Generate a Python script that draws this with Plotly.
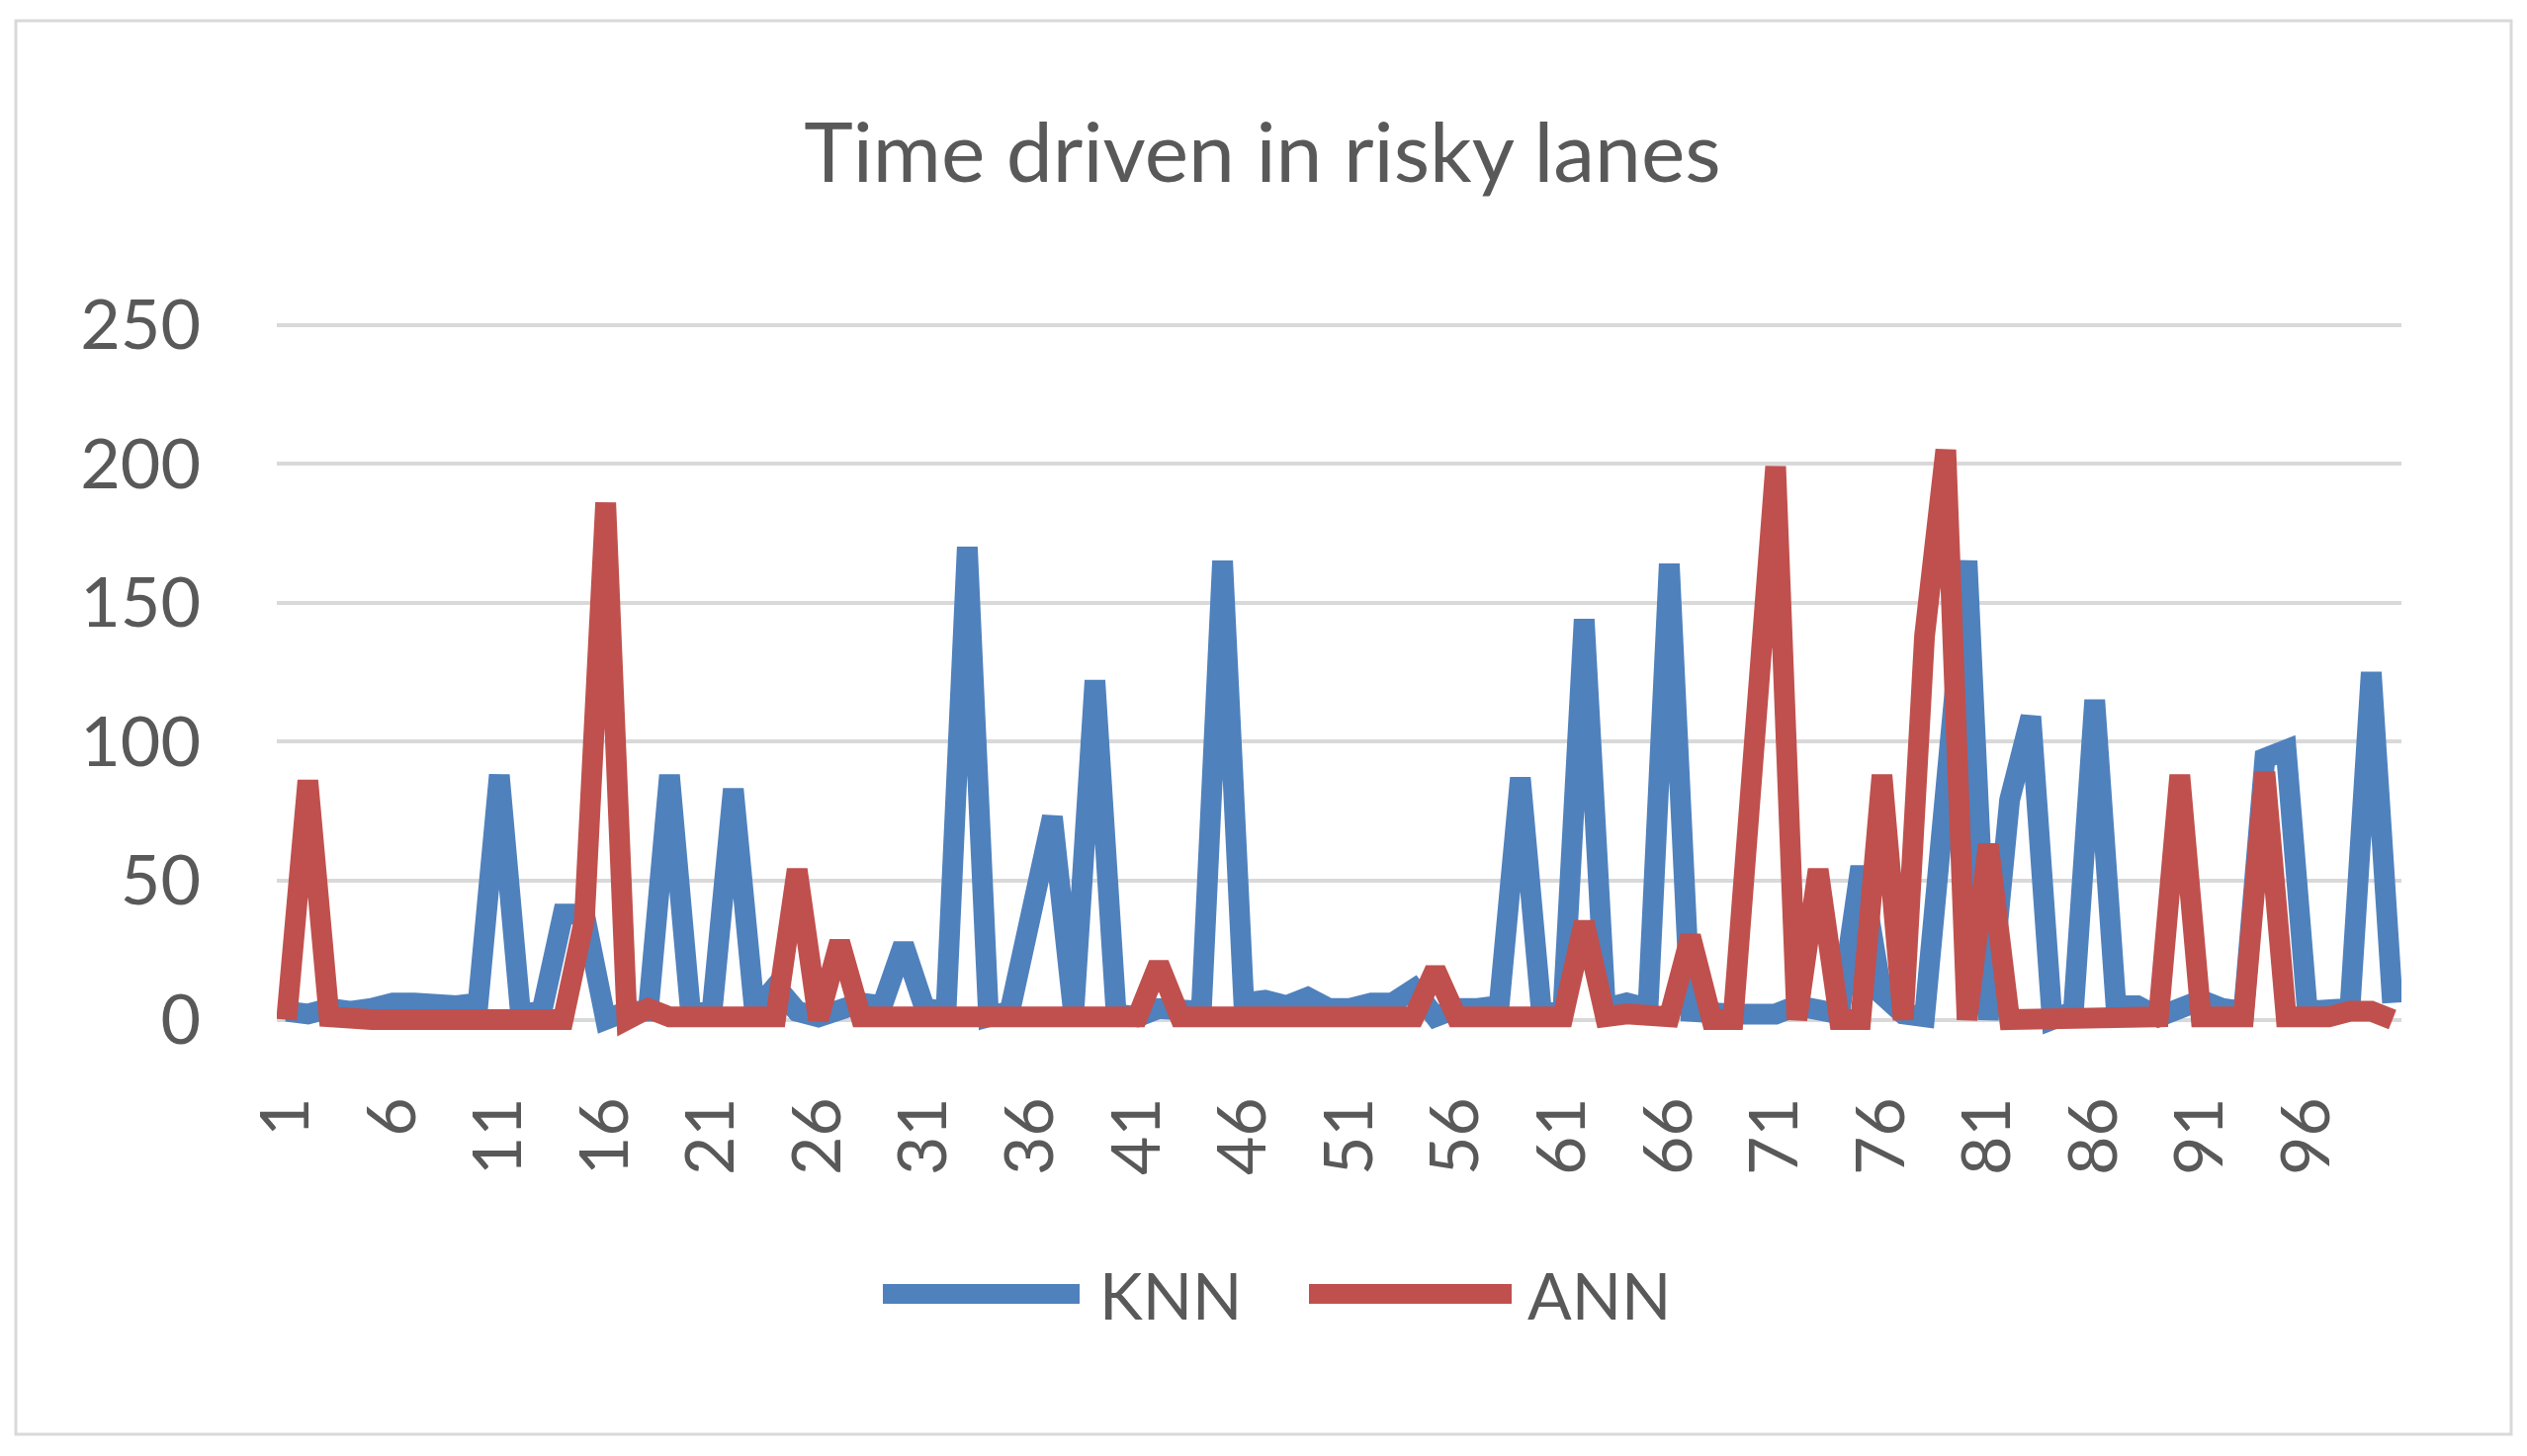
import plotly.graph_objects as go

categories = list(range(1, 101))

knn = [3, 2, 4, 3, 4, 6, 6, 5, 5, 6,
       88, 2, 3, 38, 38, 0, 3, 3, 88, 2,
       3, 83, 3, 12, 3, 1, 3, 6, 5, 27,
       4, 3, 170, 1, 3, 37, 73, 2, 122, 2,
       1, 4, 4, 3, 165, 6, 7, 5, 8, 4,
       4, 6, 6, 11, 1, 4, 4, 5, 87, 2,
       3, 144, 4, 6, 4, 164, 3, 2, 2, 2,
       2, 5, 3, 2, 55, 9, 2, 1, 83, 165,
       0, 79, 109, 0, 3, 115, 5, 5, 1, 4,
       7, 4, 3, 94, 97, 3, 3, 4, 125, 6]

ann = [0, 86, 1, 0, 0, 0, 0, 0, 0, 0,
       0, 1, 0, 0, 36, 186, 0, 4, 1, 1,
       1, 1, 1, 1, 54, 0, 28, 1, 1, 1,
       1, 1, 1, 1, 1, 1, 1, 1, 1, 1,
       1, 20, 1, 1, 1, 1, 2, 1, 1, 1,
       1, 1, 1, 1, 18, 1, 1, 1, 1, 1,
       1, 35, 1, 2, 2, 1, 30, 0, 0, 112,
       199, 0, 54, 0, 0, 88, 0, 138, 205, 0,
       63, 0, 0, 1, 1, 1, 1, 1, 1, 88,
       1, 1, 1, 89, 1, 1, 1, 3, 3, 0]

x_tickvals = list(range(1, 101, 5))
x_ticktext = [str(v) for v in x_tickvals]
y_tickvals = [0, 50, 100, 150, 200, 250]

BLUE = "#4F81BD"
RED = "#C0504D"
GRID = "#D9D9D9"
TXT = "#595959"
FONT = "Lato, 'Open Sans', sans-serif"

# page has an 8px body margin; figure is sized so it ends at the window edge
OFF = 8
W, H = 2548, 1465
L, R, T, B = 272, 127, 315, 419
pw = W - L - R
ph = H - T - B


def px(xref_px):
    return (xref_px - OFF - L) / pw


def py(yref_px):
    return (H - B - (yref_px - OFF)) / ph


fig = go.Figure()
fig.add_trace(go.Scatter(x=categories, y=knn, mode="lines", name="KNN",
                         line=dict(color=BLUE, width=21), showlegend=False))
fig.add_trace(go.Scatter(x=categories, y=ann, mode="lines", name="ANN",
                         line=dict(color=RED, width=21), showlegend=False))

shapes = [
    dict(type="rect", xref="paper", yref="paper",
         x0=px(16), x1=px(2540), y0=py(1451), y1=py(21),
         line=dict(color=GRID, width=3), fillcolor="rgba(0,0,0,0)", layer="below"),
    dict(type="line", xref="paper", yref="paper",
         x0=px(893), x1=px(1092), y0=py(1309), y1=py(1309),
         line=dict(color=BLUE, width=20)),
    dict(type="line", xref="paper", yref="paper",
         x0=px(1324), x1=px(1529), y0=py(1309), y1=py(1309),
         line=dict(color=RED, width=20)),
]

annotations = [
    dict(text="KNN", xref="paper", yref="paper", x=px(1110), y=py(1309),
         xanchor="left", yanchor="middle", showarrow=False,
         font=dict(family=FONT, size=66, color=TXT)),
    dict(text="ANN", xref="paper", yref="paper", x=px(1543), y=py(1309),
         xanchor="left", yanchor="middle", showarrow=False,
         font=dict(family=FONT, size=66, color=TXT)),
]

fig.update_layout(
    width=W, height=H,
    margin=dict(l=L, r=R, t=T, b=B),
    paper_bgcolor="white", plot_bgcolor="white",
    title=dict(text="Time driven in risky lanes", x=(1277 - OFF) / W, xref="container",
               xanchor="center", y=1 - (155 - OFF) / H, yref="container", yanchor="middle",
               font=dict(family=FONT, size=84, color=TXT)),
    shapes=shapes,
    annotations=annotations,
    showlegend=False,
    xaxis=dict(range=[0.54, 100.42], tickmode="array", tickvals=x_tickvals,
               ticktext=x_ticktext, tickangle=-90, showgrid=False, zeroline=False,
               showline=False, ticks="outside", ticklen=28,
               tickcolor="rgba(0,0,0,0)",
               tickfont=dict(family=FONT, size=68, color=TXT)),
    yaxis=dict(range=[-8, 252], tickmode="array", tickvals=y_tickvals,
               showgrid=True, gridcolor=GRID, gridwidth=4, zeroline=False,
               showline=False, ticks="outside", ticklen=62,
               tickcolor="rgba(0,0,0,0)",
               tickfont=dict(family=FONT, size=70, color=TXT)),
)

fig.write_html("out.html")
